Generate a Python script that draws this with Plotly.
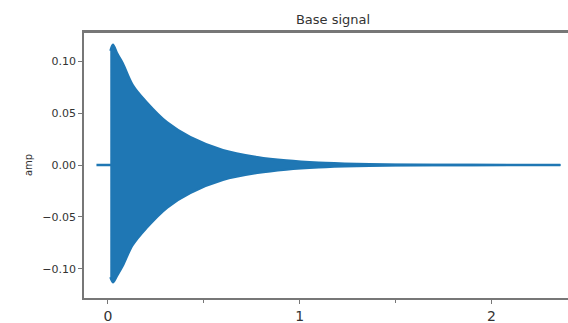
import plotly.graph_objects as go

# Envelope of the decaying signal
env_t = [0.012, 0.026, 0.05, 0.078, 0.13, 0.20, 0.31, 0.43, 0.60, 0.78, 0.93, 1.10, 1.30, 1.50, 1.80, 2.10, 2.36]
env_upper = [0.110, 0.116, 0.107, 0.098, 0.077, 0.061, 0.041, 0.027, 0.0145, 0.0078, 0.0045, 0.0024, 0.0012, 0.0006, 0.0002, 0.0001, 0.0]
env_lower = [-0.108, -0.113, -0.106, -0.097, -0.077, -0.061, -0.041, -0.027, -0.0145, -0.0078, -0.0045, -0.0024, -0.0012, -0.0006, -0.0002, -0.0001, 0.0]

# Flat baseline before/after the burst
base_t = [-0.06, 2.36]
base_amp = [0.0, 0.0]

x_ticks = [0, 1, 2]
y_ticks = [-0.10, -0.05, 0.00, 0.05, 0.10]
y_ticklabels = ["\u22120.10", "\u22120.05", "0.00", "0.05", "0.10"]

blue = "#1f77b4"

fig = go.Figure()
fig.add_trace(go.Scatter(x=base_t, y=base_amp, mode="lines",
                         line=dict(color=blue, width=2.5), hoverinfo="skip"))
fig.add_trace(go.Scatter(x=env_t, y=env_lower, mode="lines",
                         line=dict(color=blue, width=2, shape="spline"), hoverinfo="skip"))
fig.add_trace(go.Scatter(x=env_t, y=env_upper, mode="lines",
                         line=dict(color=blue, width=2, shape="spline"),
                         fill="tonexty", fillcolor=blue, hoverinfo="skip"))

axis_color = "#777777"
fig.add_shape(type="line", xref="paper", yref="paper", x0=0, x1=1, y0=1, y1=1,
              line=dict(color=axis_color, width=2))
fig.update_layout(
    width=568, height=323,
    margin=dict(l=84, r=0, t=32, b=25),
    paper_bgcolor="white", plot_bgcolor="white",
    showlegend=False,
    font=dict(family="DejaVu Sans", color="#333333"),
    title=dict(text="Base signal", x=333 / 568, xanchor="center", y=1 - 19 / 323, yanchor="middle",
               font=dict(size=13, color="#333333")),
    xaxis=dict(range=[-0.125, 2.40], tickvals=x_ticks, ticktext=[str(v) for v in x_ticks],
               ticks="outside", ticklen=4, tickcolor=axis_color, tickfont=dict(size=14),
               showline=True, linecolor=axis_color, linewidth=1.5, mirror=True,
               showgrid=False, zeroline=False,
               minor=dict(tickvals=[0.5, 1.5], ticks="outside", ticklen=3, tickcolor=axis_color)),
    yaxis=dict(range=[-0.128, 0.128], tickvals=y_ticks, ticktext=y_ticklabels,
               ticks="outside", ticklen=4, tickcolor=axis_color, tickfont=dict(size=11),
               showline=True, linecolor=axis_color, linewidth=1.5, mirror=False,
               showgrid=False, zeroline=False,
               title=dict(text="amp", font=dict(size=10), standoff=8)),
)

fig.write_html("out.html", config={"displayModeBar": False},
               post_script="document.body.style.margin='0';document.body.style.overflow='hidden';")
